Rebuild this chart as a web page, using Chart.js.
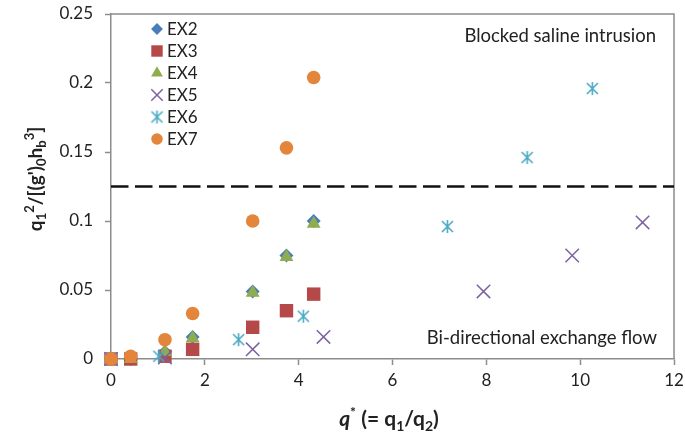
<!DOCTYPE html>
<html lang="en">
<head>
    <meta charset="UTF-8">
    <title>q* vs flow ratio</title>
    <script src="https://cdn.jsdelivr.net/npm/chart.js"></script>
    <style>
        * { margin: 0; padding: 0; box-sizing: border-box; }
        body { background: #fff; }
        #wrap { width: 685px; height: 436px; position: relative; }
    </style>
</head>
<body>
    <div id="wrap"><canvas id="chart"></canvas></div>
    <script>
        // experiment series: q* on x, q1^2/[(g')0 hb^3] on y
        const seriesNames = ["EX2", "EX3", "EX4", "EX5", "EX6", "EX7"];
        const ex2Q = [0, 0.42, 1.15, 1.74, 3.02, 3.74, 4.32];
        const ex2Val = [0, 0, 0.005, 0.016, 0.049, 0.075, 0.100];
        const ex3Q = [0, 0.42, 1.15, 1.74, 3.02, 3.74, 4.32];
        const ex3Val = [0, 0, 0.002, 0.007, 0.023, 0.035, 0.047];
        const ex4Q = [0, 0.42, 1.15, 1.74, 3.02, 3.74, 4.32];
        const ex4Val = [0, 0, 0.005, 0.015, 0.048, 0.074, 0.098];
        const ex5Q = [0, 1.15, 3.02, 4.53, 7.94, 9.83, 11.33];
        const ex5Val = [0, 0.001, 0.007, 0.016, 0.049, 0.075, 0.099];
        const ex6Q = [0, 1.02, 2.72, 4.10, 7.17, 8.87, 10.26];
        const ex6Val = [0, 0.002, 0.014, 0.031, 0.096, 0.146, 0.196];
        const ex7Q = [0, 0.42, 1.15, 1.74, 3.02, 3.74, 4.32];
        const ex7Val = [0, 0.002, 0.014, 0.033, 0.100, 0.153, 0.204];
        const blockedLimit = 0.125;
        const xTicks = [0, 2, 4, 6, 8, 10, 12];
        const yTicks = ["0", "0.05", "0.1", "0.15", "0.2", "0.25"];

        const FONT = "Lato";
        const TEXT = "#222";
        const AXIS = "#8c8c8c";

        // excel-style asterisk: vertical bar plus an X
        function asteriskMarker(color, size) {
            const c = document.createElement("canvas");
            c.width = size; c.height = size;
            const g = c.getContext("2d");
            const m = size / 2, r = size / 2 - 1;
            g.strokeStyle = color; g.lineWidth = 1.6;
            g.beginPath();
            g.moveTo(m, m - r); g.lineTo(m, m + r);
            const d = r * 0.85;
            g.moveTo(m - d, m - d); g.lineTo(m + d, m + d);
            g.moveTo(m - d, m + d); g.lineTo(m + d, m - d);
            g.stroke();
            return c;
        }

        const pts = (xs, ys) => xs.map((x, i) => ({ x: x, y: ys[i] }));

        const styles = [
            { pointStyle: "rectRot", radius: 7, color: "#4a7ebb", order: 5 },
            { pointStyle: "rect", radius: 9.5, color: "#b5494a", order: 4 },
            { pointStyle: "triangle", radius: 8, color: "#8fad4f", order: 3 },
            { pointStyle: "crossRot", radius: 9.5, color: "#7b62a0", order: 2, line: true },
            { pointStyle: asteriskMarker("#4aa9c4", 15), radius: 7, color: "#4aa9c4", order: 1, line: true },
            { pointStyle: "circle", radius: 6.8, color: "#e3853a", order: 0 }
        ];
        const seriesData = [
            pts(ex2Q, ex2Val), pts(ex3Q, ex3Val), pts(ex4Q, ex4Val),
            pts(ex5Q, ex5Val), pts(ex6Q, ex6Val), pts(ex7Q, ex7Val)
        ];

        const datasets = seriesNames.map((name, i) => ({
            type: "scatter",
            label: name,
            data: seriesData[i],
            pointStyle: styles[i].pointStyle,
            pointRadius: styles[i].radius,
            pointHoverRadius: styles[i].radius,
            backgroundColor: styles[i].color,
            borderColor: styles[i].color,
            borderWidth: styles[i].line ? 1.5 : 0,
            clip: false,
            order: styles[i].order
        }));
        datasets.push({
            type: "line",
            label: "limit",
            data: [{ x: 0, y: blockedLimit }, { x: 12, y: blockedLimit }],
            borderColor: "#111",
            borderWidth: 2.6,
            borderDash: [17.5, 6.5],
            pointRadius: 0,
            order: 10
        });

        // draw a run of text pieces with sub/superscripts, centred on x
        function drawRich(ctx, parts, x, y) {
            let w = 0;
            parts.forEach(p => { ctx.font = p.font; w += ctx.measureText(p.t).width; });
            let cx = x - w / 2;
            parts.forEach(p => {
                ctx.font = p.font;
                ctx.fillText(p.t, cx, y + (p.dy || 0));
                cx += ctx.measureText(p.t).width;
            });
        }

        const decor = {
            id: "decor",
            beforeDatasetsDraw(chart) {
                const ctx = chart.ctx;
                const a = chart.chartArea;
                // frame around plot area
                ctx.save();
                ctx.strokeStyle = AXIS;
                ctx.lineWidth = 1.5;
                ctx.beginPath();
                ctx.moveTo(a.left, a.top); ctx.lineTo(a.right, a.top); ctx.lineTo(a.right, a.bottom);
                ctx.stroke();
                ctx.restore();
            },
            afterDatasetsDraw(chart) {
                const ctx = chart.ctx;
                ctx.save();

                // legend
                ctx.textBaseline = "middle";
                ctx.textAlign = "left";
                seriesNames.forEach((name, i) => {
                    const y = 29 + i * 22;
                    const st = styles[i];
                    ctx.fillStyle = st.color;
                    ctx.strokeStyle = st.color;
                    ctx.lineWidth = 1.5;
                    Chart.helpers.drawPoint(ctx, {
                        pointStyle: st.pointStyle,
                        radius: st.radius * 0.85,
                        borderWidth: st.line ? 1.5 : 0
                    }, 157, y);
                    ctx.fillStyle = TEXT;
                    ctx.font = "17px " + FONT;
                    ctx.fillText(name, 167, y + 1);
                });

                // region notes
                ctx.fillStyle = TEXT;
                ctx.textAlign = "right";
                ctx.textBaseline = "alphabetic";
                ctx.font = "18.5px " + FONT;
                ctx.fillText("Blocked saline intrusion", 656, 42);
                ctx.fillText("Bi-directional exchange flow", 657, 344);

                // axis titles
                ctx.textAlign = "left";
                const b = "bold ";
                const xTitle = [
                    { t: "q", font: "italic bold 21px " + FONT },
                    { t: "*", font: b + "14px " + FONT, dy: -9 },
                    { t: " (= q", font: b + "21px " + FONT },
                    { t: "1", font: b + "14px " + FONT, dy: 5 },
                    { t: "/q", font: b + "21px " + FONT },
                    { t: "2", font: b + "14px " + FONT, dy: 5 },
                    { t: ")", font: b + "21px " + FONT }
                ];
                drawRich(ctx, xTitle, 389, 426);

                const yTitle = [
                    { t: "q", font: b + "19px " + FONT },
                    { t: "1", font: b + "13px " + FONT, dy: 4 },
                    { t: "2", font: b + "13px " + FONT, dy: -8 },
                    { t: "/[(g')", font: b + "19px " + FONT },
                    { t: "0", font: b + "13px " + FONT, dy: 4 },
                    { t: "h", font: b + "19px " + FONT },
                    { t: "b", font: b + "13px " + FONT, dy: 4 },
                    { t: "3", font: b + "13px " + FONT, dy: -8 },
                    { t: "]", font: b + "19px " + FONT }
                ];
                ctx.translate(42, 179);
                ctx.rotate(-Math.PI / 2);
                drawRich(ctx, yTitle, 0, 0);
                ctx.restore();
            }
        };

        Chart.defaults.font.family = FONT;
        Chart.defaults.font.size = 17;
        Chart.defaults.color = TEXT;

        new Chart(document.getElementById("chart"), {
            data: { datasets: datasets },
            plugins: [decor],
            options: {
                responsive: true,
                maintainAspectRatio: false,
                animation: false,
                layout: { padding: { top: 14, right: 9, left: 0, bottom: 0 } },
                plugins: { legend: { display: false }, tooltip: { enabled: false } },
                scales: {
                    x: {
                        type: "linear",
                        min: 0, max: 12,
                        afterBuildTicks: s => { s.ticks = xTicks.map(v => ({ value: v })); },
                        afterFit: s => { s.height = 77; s.paddingLeft = 0; s.paddingRight = 0; },
                        border: { color: AXIS, width: 1.5 },
                        grid: { drawOnChartArea: false, tickLength: 6, color: AXIS, tickWidth: 1.5 },
                        ticks: { font: { family: FONT, size: 17 }, color: TEXT, padding: 5, maxRotation: 0 }
                    },
                    y: {
                        type: "linear",
                        min: 0, max: 0.25,
                        afterBuildTicks: s => { s.ticks = yTicks.map(v => ({ value: parseFloat(v) })); },
                        afterFit: s => { s.width = 111; s.paddingTop = 0; s.paddingBottom = 0; },
                        border: { color: AXIS, width: 1.5 },
                        grid: { drawOnChartArea: false, tickLength: 6, color: AXIS, tickWidth: 1.5 },
                        ticks: {
                            font: { family: FONT, size: 17 }, color: TEXT, padding: 12,
                            callback: (v, i) => yTicks[i]
                        }
                    }
                }
            }
        });
    </script>
</body>
</html>
